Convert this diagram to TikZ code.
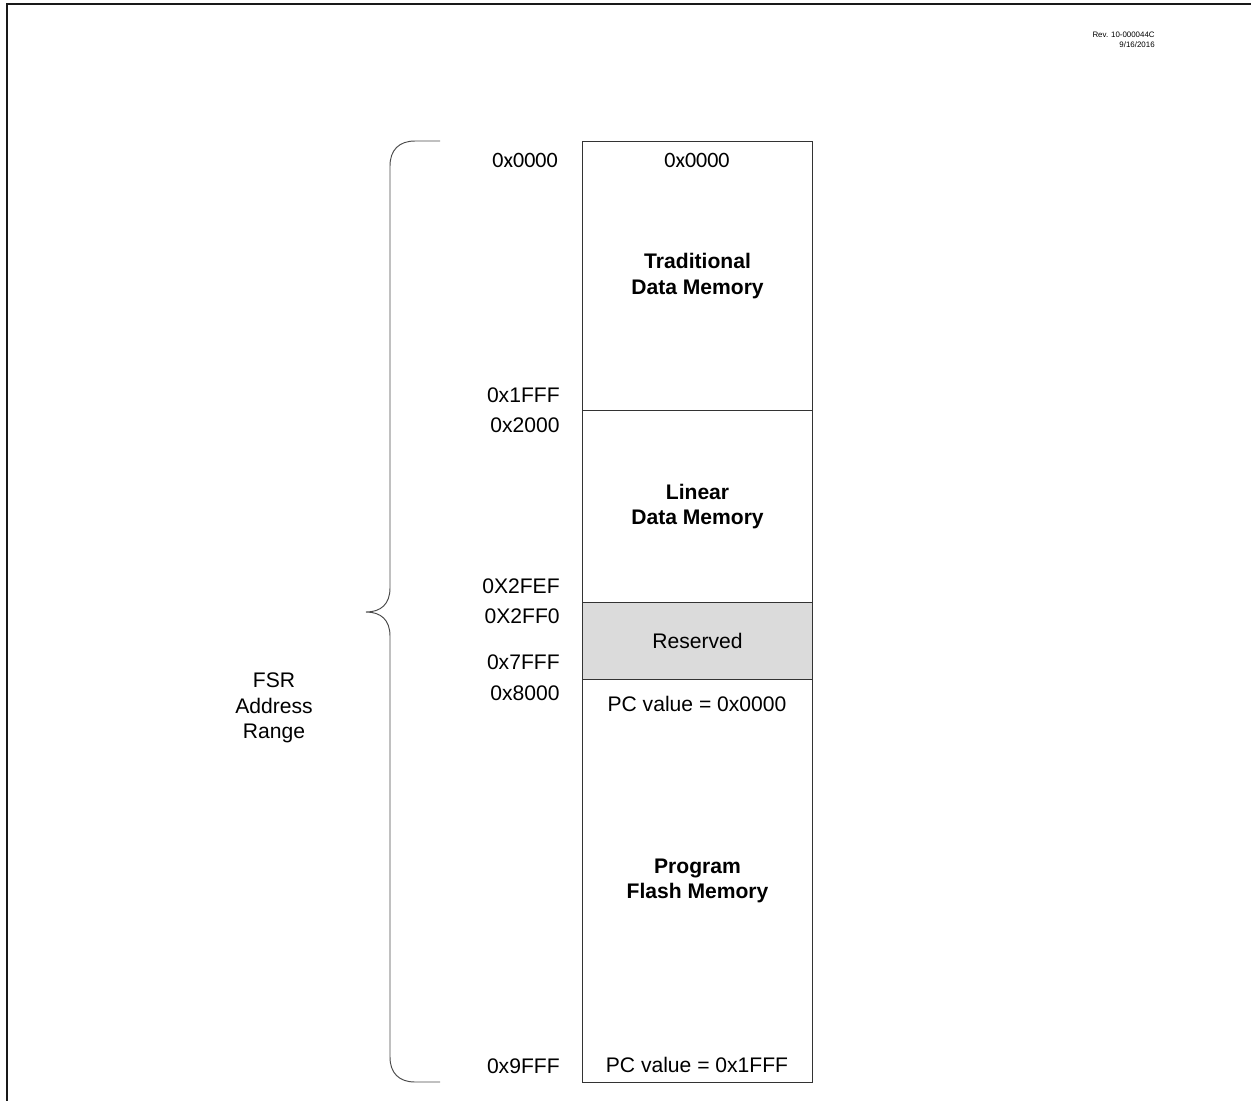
\documentclass[tikz,border=0pt]{standalone}
\usepackage{fontspec}
\setmainfont{Liberation Sans}
\newfontfamily\calibrifont{Carlito}
\usepackage{tikz}
\usetikzlibrary{positioning,calc}

\begin{document}
\begin{tikzpicture}[x=0.2mm, y=-0.2mm,
  font=\fontsize{12}{14.3}\selectfont,
  region/.style={rectangle, draw=black!80, line width=0.6pt,
                 minimum width=46mm, anchor=north west, inner sep=0pt,
                 align=center, font=\fontsize{12}{14.3}\selectfont\bfseries},
  resv/.style  ={region, fill=gray!28, font=\fontsize{12}{14.3}\selectfont},
  addr/.style  ={anchor=east, inner sep=0pt},
  calib/.style ={inner sep=0pt, font=\fontsize{12.5}{14}\calibrifont},
  brace/.style ={draw=black!70, line width=0.55pt},
  frame/.style ={draw=black!90, line width=1.6pt},
]
\useasboundingbox (0,0) rectangle (1251,1101);

% === Page frame (open at right and bottom) ===
\draw[frame] (7,1101) -- (7,4) -- (1251,4);

\node[anchor=east, align=right, inner sep=0pt,
      font=\fontsize{4.5}{5.6}\selectfont] (rev) at (1155,40)
  {Rev. 10-000044C\\9/16/2016};

% === Memory map column ===
\node[region, minimum height=53.8mm] (trad)    at (582,141)
  {Traditional\\Data Memory};
\node[region, minimum height=38.4mm] (linear)  at (582,410)
  {Linear\\Data Memory};
\node[resv,   minimum height=15.4mm] (reserved) at (582,602)
  {Reserved};
\node[region, minimum height=80.6mm] (program) at (582,679)
  {Program\\Flash Memory};

\node[calib] (tradTop) at (697,160) {0x0000};
\node[inner sep=0pt] (pcLow)  at (697,704)  {PC value = 0x0000};
\node[inner sep=0pt] (pcHigh) at (697,1065) {PC value = 0x1FFF};

% === FSR addresses ===
\node[calib, anchor=east] (a0000) at (558,160) {0x0000};
\node[addr] (a1FFF) at (560,395)  {0x1FFF};
\node[addr] (a2000) at (560,425)  {0x2000};
\node[addr] (a2FEF) at (560,586)  {0X2FEF};
\node[addr] (a2FF0) at (560,616)  {0X2FF0};
\node[addr] (a7FFF) at (560,662)  {0x7FFF};
\node[addr] (a8000) at (560,693)  {0x8000};
\node[addr] (a9FFF) at (560,1066) {0x9FFF};

% === Brace ===
\coordinate (braceTop) at (440,141);
\coordinate (braceTip) at (366,612);
\coordinate (braceBot) at (440,1082);
\draw[brace] (braceTop) -- (415,141)
  .. controls (399,141) and (390,150) .. (390,166) -- (390,588)
  .. controls (390,604) and (381,612) .. (braceTip)
  .. controls (381,612) and (390,620) .. (390,636) -- (390,1057)
  .. controls (390,1073) and (399,1082) .. (415,1082) -- (braceBot);

\node[align=center, inner sep=0pt, font=\fontsize{12}{14.5}\selectfont]
  (fsr) at (274,708) {FSR\\Address\\Range};

\end{tikzpicture}
\end{document}
